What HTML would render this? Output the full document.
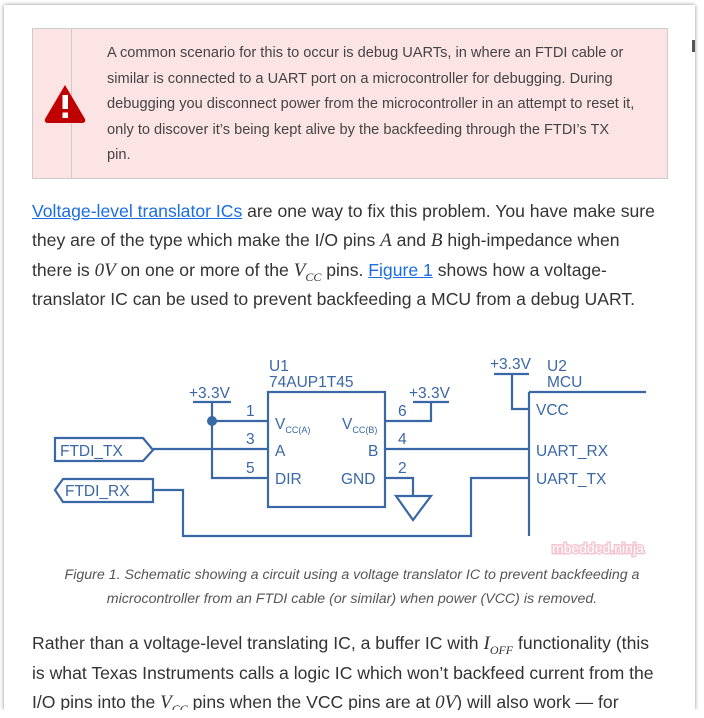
<!DOCTYPE html>
<html><head><meta charset="utf-8"><style>
html,body{margin:0;padding:0;background:#fff;}
body{width:704px;height:718px;position:relative;overflow:hidden;font-family:"Liberation Sans",sans-serif;}
.card{position:absolute;left:4px;top:5px;width:691px;height:705px;background:#fff;box-shadow:0 0 4px rgba(0,0,0,.45);}
.warn{position:absolute;left:32px;top:28px;width:634px;height:149px;background:#fde4e4;border:1px solid #ccc;}
.warn .div{position:absolute;left:38px;top:0;width:1px;height:149px;background:#d4c8c8;}
.warn .t{position:absolute;left:74px;top:12px;white-space:nowrap;font-size:14.6px;line-height:25.6px;color:#444;}
.l{position:absolute;left:32px;font-size:17.6px;color:#333;white-space:nowrap;}
a{color:#1a6ee0;text-decoration:underline;}
.m{font-family:"Liberation Serif",serif;font-style:italic;font-size:19px;}
.cap{position:absolute;left:0;width:704px;text-align:center;font-style:italic;font-size:14.2px;color:#555;}
svg text{font-family:"Liberation Sans",sans-serif;fill:#3a67a6;}
</style></head><body>
<div class="card"></div>
<div style="position:absolute;left:692px;top:40px;width:3px;height:12px;background:#555"></div>
<div class="warn"><div class="div"></div>
<svg style="position:absolute;left:10px;top:55px" width="44" height="42"><path d="M22 1 L42 35 Q43 39 39 39 L5 39 Q1 39 2 35 Z" fill="#c00000"/><rect x="19.5" y="11" width="5.5" height="14" fill="#fff"/><rect x="19.5" y="28.5" width="5.5" height="5.5" fill="#fff"/></svg>
<div class="t">A common scenario for this to occur is debug UARTs, in where an FTDI cable or<br>similar is connected to a UART port on a microcontroller for debugging. During<br>debugging you disconnect power from the microcontroller in an attempt to reset it,<br>only to discover it’s being kept alive by the backfeeding through the FTDI’s TX<br>pin.</div></div>
<div class="l" style="top:201px"><a>Voltage-level translator ICs</a> are one way to fix this problem. You have make sure</div>
<div class="l" style="top:230px">they are of the type which make the I/O pins <span class="m">A</span> and <span class="m">B</span> high-impedance when</div>
<div class="l" style="top:260px">there is <span class="m">0V</span> on one or more of the <span class="m">V<sub style="font-size:12px">CC</sub></span> pins. <a>Figure 1</a> shows how a voltage-</div>
<div class="l" style="top:289px">translator IC can be used to prevent backfeeding a MCU from a debug UART.</div>
<svg style="position:absolute;left:0;top:0" width="704" height="560" fill="none" stroke="#3a67a6" stroke-width="2.2">
<rect x="268" y="392" width="117" height="115"/>
<line x1="193" y1="402" x2="231" y2="402"/>
<polyline points="212,402 212,478 268,478"/>
<line x1="212" y1="421" x2="268" y2="421"/>
<circle cx="212" cy="421" r="5" fill="#3a67a6" stroke="none"/>
<line x1="153" y1="449" x2="268" y2="449"/>
<polygon points="55,438 143,438 153,450 143,461 55,461"/>
<polygon points="63,479 153,479 153,502 63,502 55,490"/>
<polyline points="153,490 183,490 183,536 471,536 471,478 529,478"/>
<polyline points="385,421 431,421 431,402"/>
<line x1="413" y1="402" x2="449" y2="402"/>
<line x1="385" y1="449" x2="529" y2="449"/>
<polyline points="385,478 413,478 413,496"/>
<polygon points="396,496 431,496 413,520"/>
<line x1="529" y1="392" x2="529" y2="536"/>
<line x1="529" y1="392" x2="646" y2="392"/>
<polyline points="494,374 529,374"/>
<polyline points="512,374 512,409 529,409"/>
<g stroke="none" font-size="15.5">
<text x="269" y="371">U1</text><text x="269" y="387">74AUP1T45</text>
<text x="547" y="371">U2</text><text x="547" y="387">MCU</text>
<text x="189" y="398">+3.3V</text><text x="409" y="398">+3.3V</text><text x="490" y="369">+3.3V</text>
<text x="246" y="416">1</text><text x="246" y="444">3</text><text x="246" y="473">5</text>
<text x="398" y="416">6</text><text x="398" y="444">4</text><text x="398" y="473">2</text>
<text x="275" y="429">V<tspan font-size="9" dy="4">CC(A)</tspan></text>
<text x="342" y="429">V<tspan font-size="9" dy="4">CC(B)</tspan></text>
<text x="275" y="456">A</text><text x="368" y="456">B</text>
<text x="275" y="484">DIR</text><text x="341" y="484">GND</text>
<text x="536" y="415">VCC</text><text x="536" y="456">UART_RX</text><text x="536" y="484">UART_TX</text>
<text x="60" y="456">FTDI_TX</text><text x="65" y="496">FTDI_RX</text>
<text x="552" y="553" style="fill:#fff;stroke:#f5c6d0;stroke-width:3;paint-order:stroke" font-size="14">mbedded.ninja</text>
</g></svg>
<div class="cap" style="top:567px">Figure 1. Schematic showing a circuit using a voltage translator IC to prevent backfeeding a</div>
<div class="cap" style="top:591px">microcontroller from an FTDI cable (or similar) when power (VCC) is removed.</div>
<div class="l" style="top:633px">Rather than a voltage-level translating IC, a buffer IC with <span class="m">I<sub style="font-size:12px">OFF</sub></span> functionality (this</div>
<div class="l" style="top:663px">is what Texas Instruments calls a logic IC which won’t backfeed current from the</div>
<div class="l" style="top:692px">I/O pins into the <span class="m">V<sub style="font-size:12px">CC</sub></span> pins when the VCC pins are at <span class="m">0V</span>) will also work — for</div>
<div style="position:absolute;left:0;top:710px;width:704px;height:8px;background:#fff"></div>
</body></html>
